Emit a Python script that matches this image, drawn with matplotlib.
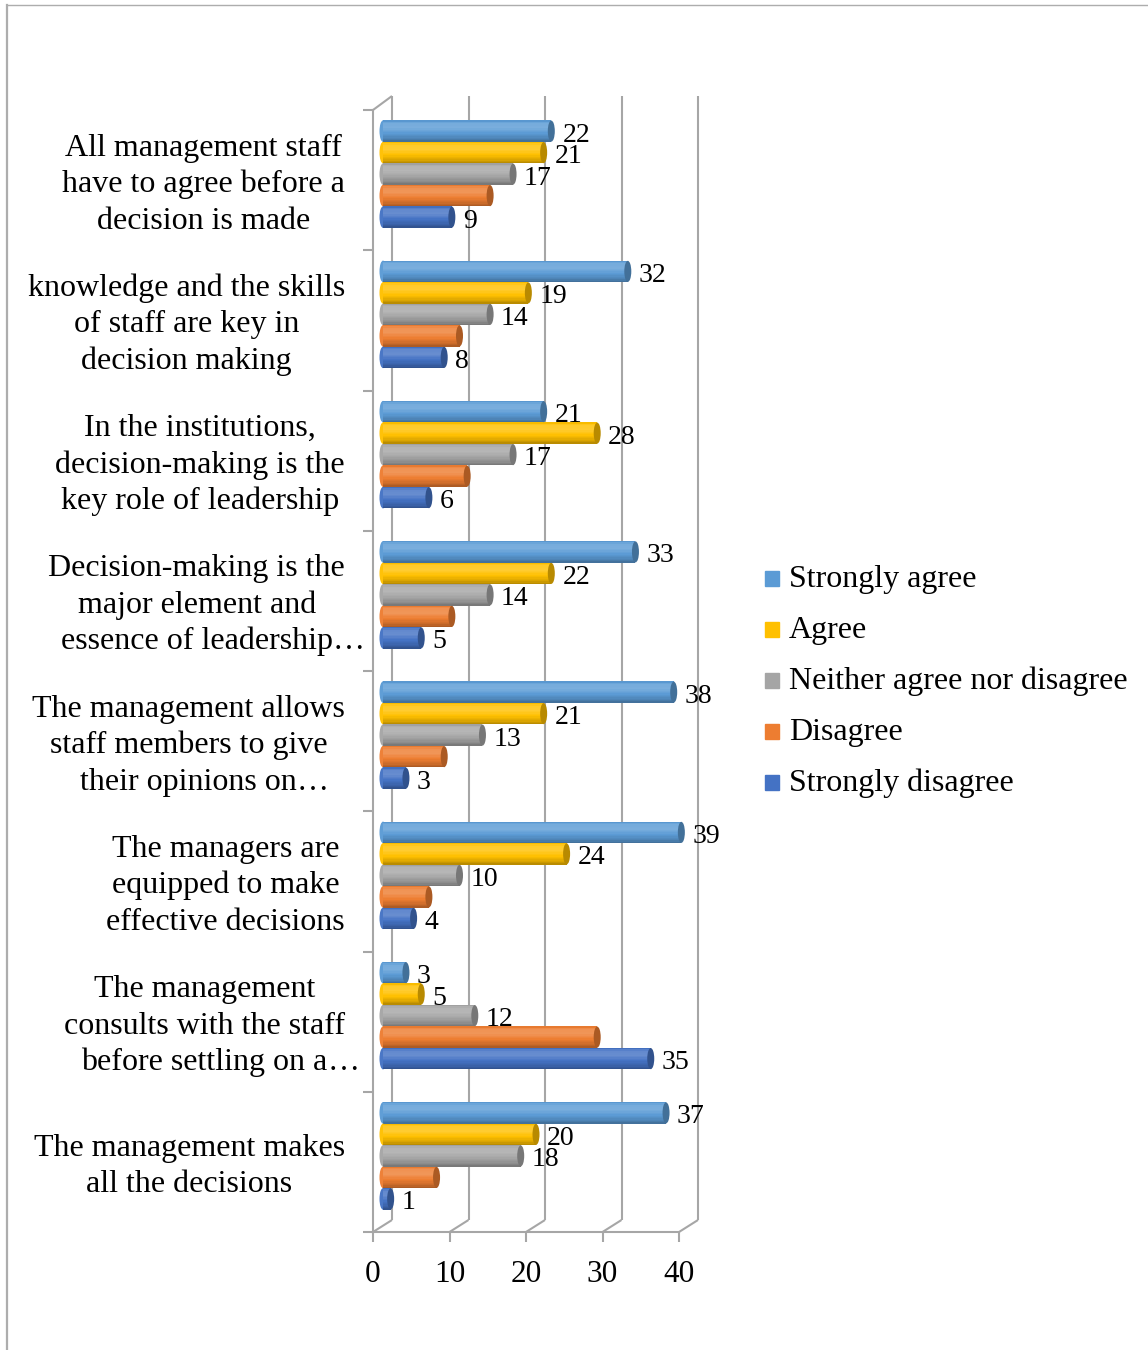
import matplotlib.pyplot as plt
import numpy as np
from matplotlib.colors import to_rgb
from matplotlib.lines import Line2D
from matplotlib.patches import Ellipse, Rectangle

# --- data (top to bottom as in the chart) ---
categories = [
    "All management staff\nhave to agree before a\ndecision is made",
    "knowledge and the skills\nof staff are key in\ndecision making",
    "In the institutions,\ndecision-making is the\nkey role of leadership",
    "Decision-making is the\nmajor element and\nessence of leadership…",
    "The management allows\nstaff members to give\ntheir opinions on…",
    "The managers are\nequipped to make\neffective decisions",
    "The management\nconsults with the staff\nbefore settling on a…",
    "The management makes\nall the decisions",
]
series = ["Strongly agree", "Agree", "Neither agree nor disagree",
          "Disagree", "Strongly disagree"]
strongly_agree = [22, 32, 21, 33, 38, 39, 3, 37]
agree = [21, 19, 28, 22, 21, 24, 5, 20]
neither = [17, 14, 17, 14, 13, 10, 12, 18]
disagree = [14, 10, 11, 9, 8, 6, 28, 7]
strongly_disagree = [9, 8, 6, 5, 3, 4, 35, 1]
values = [strongly_agree, agree, neither, disagree, strongly_disagree]
show_labels = [True, True, True, False, True]
colors = ["#5B9BD5", "#FFC000", "#A5A5A5", "#ED7D31", "#4472C4"]
xticks = [0, 10, 20, 30, 40]

plt.rcParams['font.family'] = ['Liberation Serif', 'DejaVu Serif']

W, H = 1148, 1350
fig = plt.figure(figsize=(W / 100, H / 100), dpi=100)

# front plane of the pseudo-3D plot area, in pixels
X0, X1, Y0, Y1 = 373, 679, 110, 1232
ax = fig.add_axes([X0 / W, 1 - Y1 / H, (X1 - X0) / W, (Y1 - Y0) / H])
n = len(categories)
ax.set_xlim(0, 40)
ax.set_ylim(n, 0)
px = 40 / (X1 - X0)   # data units per pixel
py = n / (Y1 - Y0)

grid_col = "#A6A6A6"
grid_kw = dict(color=grid_col, lw=1.5, clip_on=False, zorder=1,
               solid_capstyle='butt')

# back wall gridlines and the floor diagonals
for t in xticks:
    ax.plot([t + 19 * px] * 2, [-14 * py, n - 12 * py], **grid_kw)
    ax.plot([t, t + 19 * px], [n, n - 12 * py], **grid_kw)
ax.plot([0, 19 * px], [0, -14 * py], **grid_kw)

for side in ['top', 'right']:
    ax.spines[side].set_visible(False)
for side in ['left', 'bottom']:
    ax.spines[side].set_color(grid_col)
    ax.spines[side].set_linewidth(1.5)
ax.set_xticks(xticks)
ax.set_yticks(range(n + 1))
ax.set_yticklabels([])
ax.tick_params(axis='x', length=7.2, width=1.5, color=grid_col,
               labelsize=22.5, pad=13)
ax.tick_params(axis='y', length=7.2, width=1.5, color=grid_col)
ax.patch.set_visible(False)


def shade(c, f):
    if f >= 1:
        return np.clip(c + (1 - c) * (f - 1) * 1.6, 0, 1)
    return c * f


prof_t = [0, 0.12, 0.35, 0.6, 0.85, 1.0]
prof_f = [0.93, 1.10, 1.12, 1.0, 0.85, 0.70]
n_str = 16

pitch = 21.5 * py
bar_h = pitch
bx = 10 * px
by = -6 * py
cap_w = 7 * px

for k, (vals, c) in enumerate(zip(values, colors)):
    vals = np.asarray(vals)
    base = np.array(to_rgb(c))
    yc = np.arange(n) + 0.5 + (k - 2) * pitch + by
    for yy in yc:
        ax.add_patch(Ellipse((bx, yy), cap_w, bar_h, color=shade(base, 1.02),
                             zorder=3, clip_on=False, lw=0))
    for s in range(n_str):
        t = (s + 0.5) / n_str
        f = np.interp(t, prof_t, prof_f)
        ax.barh(yc - bar_h / 2 + (s + 0.5) * bar_h / n_str, vals,
                height=bar_h / n_str * 1.05, left=bx, color=shade(base, f),
                linewidth=0, zorder=3, clip_on=False)
    for yy, v in zip(yc, vals):
        ax.add_patch(Ellipse((bx + v, yy), cap_w, bar_h * 0.98,
                             color=shade(base, 0.72), zorder=4, clip_on=False,
                             lw=0))
        if show_labels[k]:
            ax.text(bx + v + 11 * px, yy + 4 * py, str(v), ha='left',
                    va='center', fontsize=20, zorder=6, clip_on=False)

# category labels: block right-aligned, lines centred, "…" appended after
renderer = fig.canvas.get_renderer()
label_right = 345
line_pitch = 36.5
for i, lab in enumerate(categories):
    lines = lab.split('\n')
    core = [ln.rstrip('…') for ln in lines]
    widths = []
    for ln in core:
        tmp = fig.text(0, 0, ln, fontsize=23)
        widths.append(tmp.get_window_extent(renderer).width)
        tmp.remove()
    cx = label_right - max(widths) / 2
    yc_px = Y0 + (i + 0.5) * (Y1 - Y0) / n
    m = len(lines)
    for j, (ln, cr, w) in enumerate(zip(lines, core, widths)):
        yb = yc_px + 12 + (j - (m - 1) / 2) * line_pitch
        fig.text(cx / W, 1 - yb / H, cr, ha='center', va='baseline',
                 fontsize=23)
        if ln != cr:
            fig.text((cx + w / 2) / W, 1 - yb / H, '…', ha='left',
                     va='baseline', fontsize=23)

# legend
for k, (name, c) in enumerate(zip(series, colors)):
    yb = 587 + 51 * k
    fig.patches.append(Rectangle((765 / W, 1 - (yb - 1) / H), 14 / W, 15 / H,
                                 transform=fig.transFigure, color=c))
    fig.text(789 / W, 1 - yb / H, name, fontsize=23, va='baseline')

# outer frame
fig.add_artist(Line2D([7 / W, 7 / W], [0, 1 - 5 / H], color='#ADADAD', lw=1.6))
fig.add_artist(Line2D([7 / W, 1], [1 - 5 / H, 1 - 5 / H], color='#ADADAD',
                      lw=1.0))

fig.savefig('out.png', dpi=100)
